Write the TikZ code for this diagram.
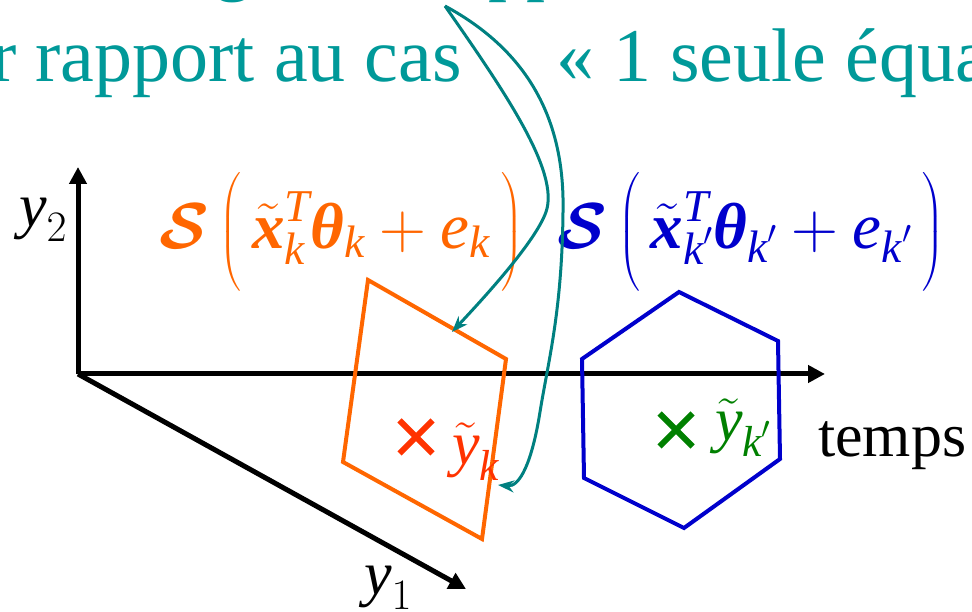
\RequirePackage{fix-cm}
\documentclass[tikz,border=0pt]{standalone}
\usepackage{amsmath,bm}
\usepackage{fontspec}
\setmainfont{Liberation Serif}
\usetikzlibrary{
  arrows.meta,
  shapes.misc
}
\definecolor{tealtext}{RGB}{0,153,153}
\definecolor{tealarrow}{RGB}{0,128,128}
\definecolor{orangek}{RGB}{255,102,0}
\definecolor{redk}{RGB}{255,51,0}
\definecolor{bluek}{RGB}{0,0,204}
\definecolor{greenk}{RGB}{0,128,0}
\newcommand{\sfun}{\boldsymbol{\mathcal{S}}}
\newcommand{\vi}[1]{\text{\itshape #1}}
\newcommand{\vb}[1]{\text{\bfseries\itshape #1}}
\tikzset{
  >=stealth,
  line cap=round,
  line join=round,
  txt/.style={inner sep=0pt},
  bigtext/.style={txt, text=tealtext, font=\fontsize{76}{80}\selectfont},
  mathtext/.style={txt, font=\fontsize{65}{72}\selectfont},
  axislabel/.style={txt, font=\fontsize{62}{70}\selectfont},
  axis/.style={line width=5pt, line cap=butt, -{Triangle[length=17pt,width=17pt]}},
  link/.style={draw=tealarrow, line width=3pt, -{Stealth[length=16pt,width=12pt]}},
  region/.style={line width=4pt, line join=miter},
  crossmark/.style={cross out, draw, line width=6pt, line cap=butt, minimum size=27pt, inner sep=0pt}
}
\begin{document}
\begin{tikzpicture}[x=1pt, y=1pt]
\useasboundingbox (0,0) rectangle (972,612);

% titre (coupe)
\node[bigtext, anchor=base] (t1a) at (233,625) {g};
\node[bigtext, anchor=base west] (t1b) at (488,625) {pp};
\node[bigtext, anchor=base east] (t2a) at (462,530) {r rapport au cas};
\node[bigtext, anchor=base west] (t2b) at (556,530) {« 1 seule équa};

% axes
\coordinate (O) at (78,238);
\coordinate (y2end) at (78,445);
\coordinate (tend) at (825,238);
\coordinate (y1end) at (466,23);
\draw[axis] (O) -- (y2end);
\draw[axis] (O) -- (tend);
\draw[axis] (O) -- (y1end);
\node[axislabel] (y2lab) at (43,392) {$\vi{y}_2$};
\node[axislabel] (y1lab) at (388,24) {$\vi{y}_1$};
\node[axislabel, anchor=base west] (temps) at (818,155) {temps};

% formules
\node[mathtext, text=orangek] (fk) at (341,380)
  {$\sfun\,\Bigl(\,\tilde{\vb{x}}_{\vi{k}}^{\vi{T}}\vb{θ}_{\vi{k}}+\vi{e}_{\vi{k}}\,\Bigr)$};
\node[mathtext, text=bluek] (fkp) at (751,380)
  {$\sfun\,\Bigl(\,\tilde{\vb{x}}_{\vi{k}'}^{\vi{T}}\vb{θ}_{\vi{k}'}+\vi{e}_{\vi{k}'}\,\Bigr)$};

% domaines
\draw[region, orangek] (368,332) -- (506,253) -- (482,73) -- (343,150) -- cycle;
\draw[region, bluek] (679,320) -- (778,271) -- (780,153) -- (684,84) -- (584,134) -- (582,253) -- cycle;

% observations
\node[crossmark, redk] (mk) at (416,175) {};
\node[axislabel, text=redk, anchor=base west] (yk) at (452,147) {$\tilde{\vi{y}}_{\vi{k}}$};
\node[crossmark, greenk] (mkp) at (676,182) {};
\node[axislabel, text=greenk, anchor=base west] (ykp) at (715,171) {$\tilde{\vi{y}}_{\vi{k}'}$};

% fleches
\coordinate (src) at (445,606);
\coordinate (hitA) at (452,280);
\coordinate (hitB) at (498,127);
\draw[link] (src) .. controls (505,520) and (560,440) .. (546,400)
  .. controls (535,369) and (480,310) .. (hitA);
\draw[link] (src) .. controls (530,560) and (565,490) .. (563,400)
  .. controls (562,300) and (548,250) .. (540,200)
  .. controls (532,150) and (520,125) .. (hitB);

\end{tikzpicture}
\end{document}
